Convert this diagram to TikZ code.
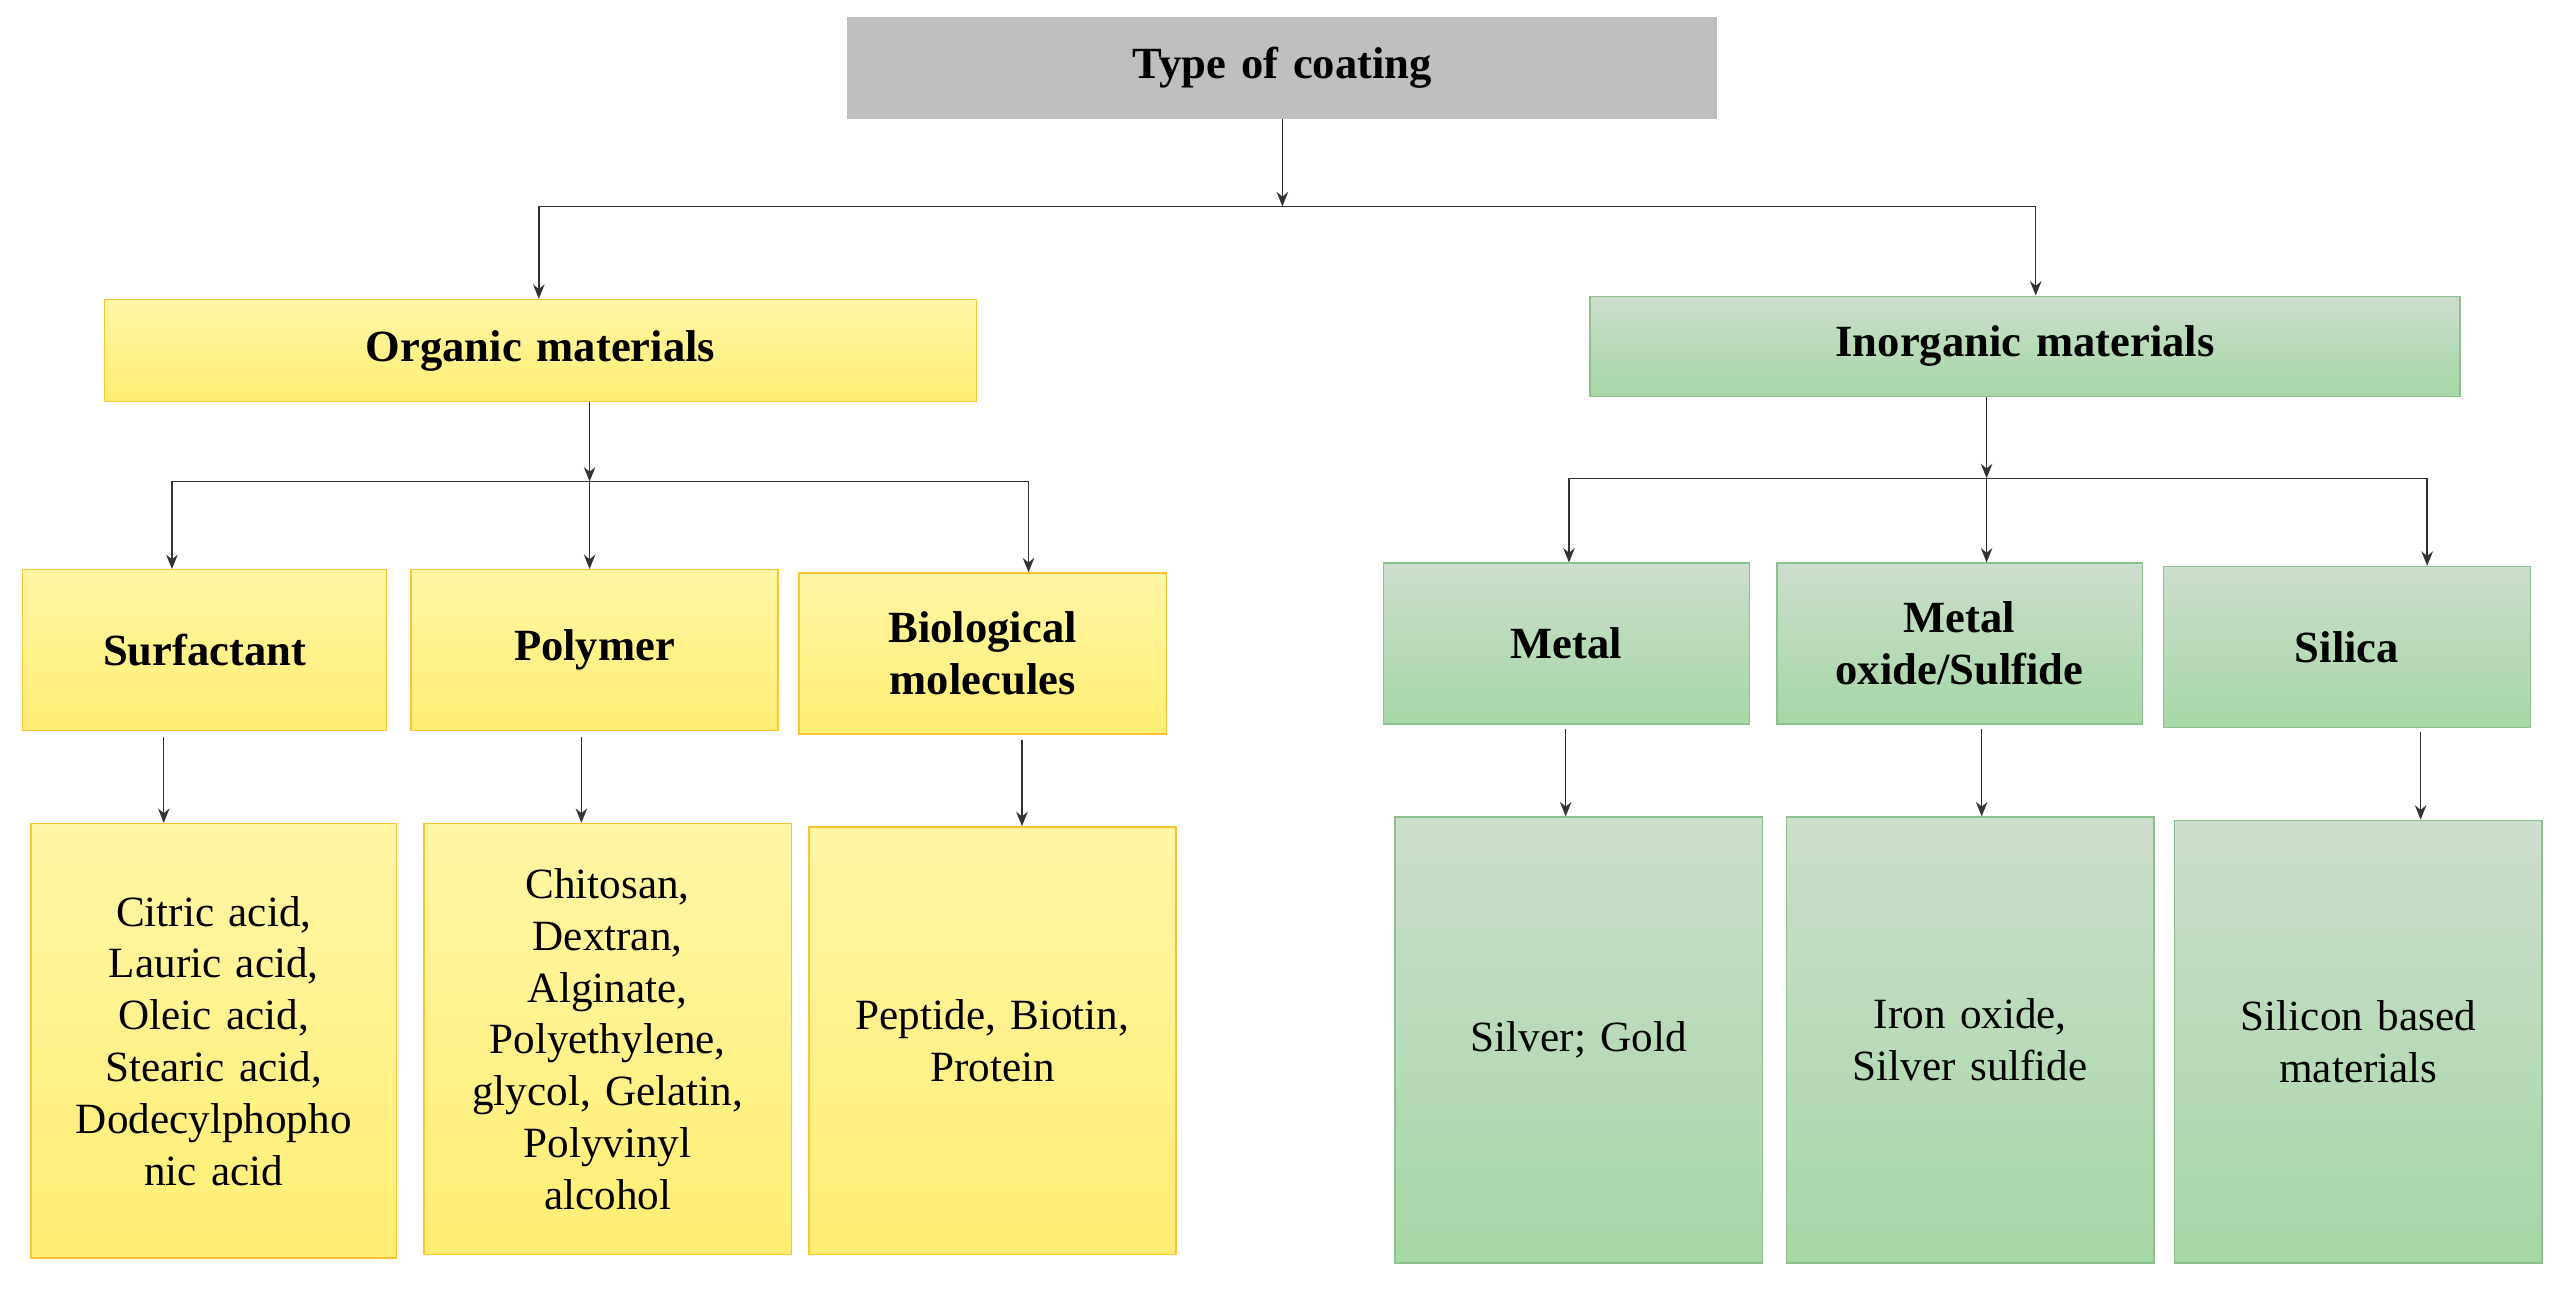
\documentclass[tikz,border=0pt]{standalone}
\usepackage{fontspec}
\setmainfont{Liberation Serif}
\usetikzlibrary{arrows.meta}
\begin{document}
\begin{tikzpicture}[x=0.02cm,y=-0.02cm,
  box/.style={draw, line width=0.5pt, align=center, inner sep=2pt, font=\fontsize{15}{18}\selectfont},
  obox/.style={box, draw=orange!60!yellow!80!white, top color=orange!20!yellow!35!white, bottom color=orange!25!yellow!55!white},
  gbox/.style={box, draw=green!45!black!45!white, top color=green!35!black!20!white, bottom color=green!55!black!35!white},
  hd/.style={font=\fontsize{15.5}{18}\selectfont\bfseries},
  arr/.style={-{Stealth[length=5pt,width=4pt]}, line width=0.5pt, draw=black!80},
  ln/.style={line width=0.5pt, draw=black!80}]
\useasboundingbox (0,0) rectangle (1568,793);
\def\bx#1#2#3#4#5#6#7{\node[#2, minimum width=#5*0.02cm-1pt, minimum height=#6*0.02cm-1pt, text width=#5*0.02cm-8pt] (#1) at ({(#3+#3+#5)/2},{(#4+#4+#6)/2}) {#7};}
\bx{type}{box, draw=black!25, fill=black!25, hd}{517}{10}{532}{63}{Type of coating}
\bx{org}{obox, hd}{63}{182}{534}{64}{Organic materials}
\bx{inorg}{gbox, hd}{970}{180}{533}{63}{Inorganic materials}
\bx{surf}{obox, hd}{13}{347}{224}{100}{Surfactant}
\bx{poly}{obox, hd}{250}{347}{226}{100}{Polymer}
\bx{bio}{obox, hd}{487}{349}{226}{100}{Biological\\molecules}
\bx{surfb}{obox}{18}{502}{225}{267}{Citric acid,\\Lauric acid,\\Oleic acid,\\Stearic acid,\\Dodecylphopho\\nic acid}
\bx{polyb}{obox}{258}{502}{226}{265}{Chitosan,\\Dextran,\\Alginate,\\Polyethylene,\\glycol, Gelatin,\\Polyvinyl\\alcohol}
\bx{biob}{obox}{493}{504}{226}{263}{Peptide, Biotin,\\Protein}
\bx{metal}{gbox, hd}{844}{343}{225}{100}{Metal}
\bx{mox}{gbox, hd}{1084}{343}{225}{100}{Metal\\oxide/Sulfide}
\bx{sil}{gbox, hd}{1320}{345}{226}{100}{Silica}
\bx{metalb}{gbox}{851}{498}{226}{274}{Silver; Gold}
\bx{moxb}{gbox}{1090}{498}{226}{274}{Iron oxide,\\Silver sulfide}
\bx{silb}{gbox}{1327}{500}{226}{272}{Silicon based\\materials}
% top level
\coordinate (j0) at (783,126);
\coordinate (j0l) at (329,126);
\coordinate (j0r) at (1243,126);
\draw[arr] (type.south -| j0) -- (j0);
\draw[ln] (j0l) -- (j0r);
\draw[arr] (j0l) -- (j0l |- org.north);
\draw[arr] (j0r) -- (j0r |- inorg.north);
% organic
\coordinate (j1) at (360,294);
\coordinate (j1l) at (105,294);
\coordinate (j1r) at (628,294);
\draw[arr] (org.south -| j1) -- (j1);
\draw[ln] (j1l) -- (j1r);
\draw[arr] (j1l) -- (j1l |- surf.north);
\draw[arr] (j1) -- (j1 |- poly.north);
\draw[arr] (j1r) -- (j1r |- bio.north);
\coordinate (a1) at (100,450); \draw[arr] (a1) -- (a1 |- surfb.north);
\coordinate (a2) at (355,450); \draw[arr] (a2) -- (a2 |- polyb.north);
\coordinate (a3) at (624,452); \draw[arr] (a3) -- (a3 |- biob.north);
% inorganic
\coordinate (j2) at (1213,292);
\coordinate (j2l) at (958,292);
\coordinate (j2r) at (1482,292);
\draw[arr] (inorg.south -| j2) -- (j2);
\draw[ln] (j2l) -- (j2r);
\draw[arr] (j2l) -- (j2l |- metal.north);
\draw[arr] (j2) -- (j2 |- mox.north);
\draw[arr] (j2r) -- (j2r |- sil.north);
\coordinate (b1) at (956,445); \draw[arr] (b1) -- (b1 |- metalb.north);
\coordinate (b2) at (1210,445); \draw[arr] (b2) -- (b2 |- moxb.north);
\coordinate (b3) at (1478,447); \draw[arr] (b3) -- (b3 |- silb.north);
\end{tikzpicture}
\end{document}
